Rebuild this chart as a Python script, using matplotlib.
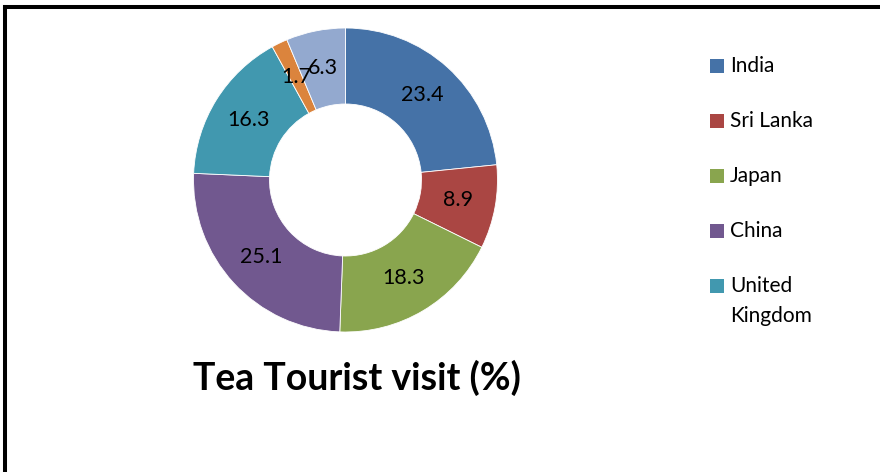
import numpy as np
import matplotlib
matplotlib.use("Agg")
import matplotlib.pyplot as plt
from matplotlib.lines import Line2D
from matplotlib.patches import Rectangle

categories = ["India", "Sri Lanka", "Japan", "China", "United\nKingdom", "Other A", "Other B"]
values = [23.4, 8.9, 18.3, 25.1, 16.3, 1.7, 6.3]
colors = ["#4572A7", "#AA4643", "#89A54E", "#71588F", "#4198AF", "#DB843D", "#93A9CF"]
legend_count = 5
title = "Tea Tourist visit (%)"

plt.rcParams['font.family'] = ['Lato', 'DejaVu Sans']

W, H = 880, 472
fig = plt.figure(figsize=(W / 100, H / 100), dpi=100)

cx, cy, R = 345.5, 180, 152
ax = fig.add_axes([(cx - R) / W, (H - cy - R) / H, 2 * R / W, 2 * R / H])
wedges, _ = ax.pie(values, colors=colors, startangle=90, counterclock=False,
                   radius=1, wedgeprops=dict(width=0.5, edgecolor='white', linewidth=0.6))
ax.set_xlim(-1, 1)
ax.set_ylim(-1, 1)
ax.set_aspect('equal')
ax.axis('off')

for w, v in zip(wedges, values):
    ang = np.deg2rad((w.theta1 + w.theta2) / 2)
    ax.text(0.75 * np.cos(ang), 0.75 * np.sin(ang), f"{v}", ha='center', va='center',
            fontsize=15.5, color='black')

fig.text(357 / W, 1 - 378 / H, title, ha='center', va='center', fontsize=27,
         fontweight='bold', color='black')

# legend
row_y = [66, 121, 176, 231, 286]
for i in range(legend_count):
    y = row_y[i]
    fig.patches.append(Rectangle((710 / W, 1 - (y + 7) / H), 14 / W, 14 / H,
                                 transform=fig.transFigure, facecolor=colors[i],
                                 edgecolor='none'))
    fig.text(730 / W, 1 - (y - 10) / H, categories[i], ha='left', va='top',
             fontsize=15, color='black', linespacing=1.65)

# frame (top and left visible)
fig.add_artist(Line2D([4.5 / W, 1.05], [1 - 7 / H, 1 - 7 / H], transform=fig.transFigure,
                      color='black', linewidth=2.9))
fig.add_artist(Line2D([4.5 / W, 4.5 / W], [-0.05, 1 - 7 / H], transform=fig.transFigure,
                      color='black', linewidth=2.9, solid_capstyle='projecting'))

fig.savefig("out.png", dpi=100, facecolor='white')
